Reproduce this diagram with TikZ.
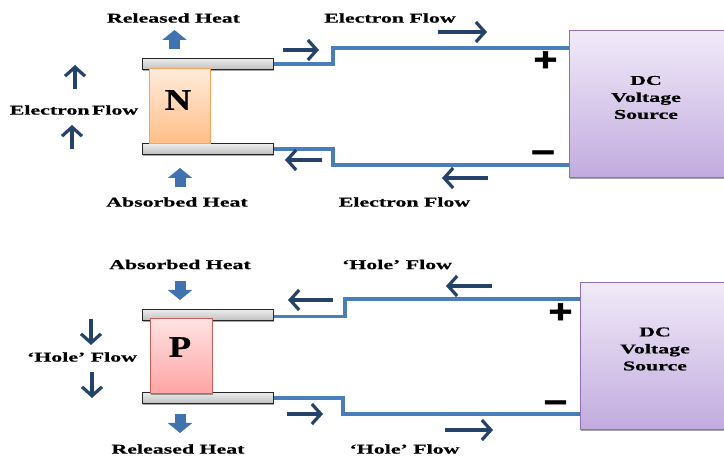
\documentclass[tikz,border=0pt]{standalone}
\usepackage{fontspec}
\setmainfont{Liberation Serif}
\newfontfamily\lab{Liberation Serif}[FakeStretch=1.62,FakeBold=0.6]
\newfontfamily\ltr{Liberation Serif}[FakeStretch=1.22,FakeBold=0.6]
\newfontfamily\sgn{Liberation Sans}[FakeStretch=1.25,FakeBold=1.5]
\usetikzlibrary{arrows.meta,shadows}
\definecolor{navy}{HTML}{25426B}
\definecolor{wirec}{HTML}{4A7EBB}
\definecolor{blockc}{HTML}{3F72AE}
\definecolor{orangetop}{HTML}{FFEBDB}
\definecolor{orangebot}{HTML}{FFBE86}
\definecolor{orangeedge}{HTML}{F9A35A}
\definecolor{pinktop}{HTML}{FFE2E2}
\definecolor{pinkbot}{HTML}{FFA3A3}
\definecolor{pinkedge}{HTML}{C9605C}
\definecolor{purpletop}{HTML}{F0EAF8}
\definecolor{purplebot}{HTML}{C2ABDF}
\definecolor{purpleedge}{HTML}{8E6FB8}
\tikzset{
  lbl/.style={font=\lab\bfseries\fontsize{13.5}{16}\selectfont,text=black,inner sep=0pt},
  letter/.style={font=\ltr\bfseries\fontsize{30}{32}\selectfont,inner sep=0pt},
  sign/.style={font=\sgn\bfseries\fontsize{33}{33}\selectfont,inner sep=0pt},
  softshadow/.style={drop shadow={shadow xshift=.8pt,shadow yshift=-1.2pt,opacity=.35,fill=black}},
  plate/.style={draw=black!85,line width=1pt,top color=gray!15,bottom color=gray!50,minimum width=131pt,minimum height=11pt,inner sep=0pt,softshadow},
  nbox/.style={draw=orangeedge,line width=1pt,top color=orangetop,bottom color=orangebot,minimum width=61pt,minimum height=75pt,inner sep=0pt},
  pbox/.style={draw=pinkedge,line width=1pt,top color=pinktop,bottom color=pinkbot,minimum width=62pt,minimum height=75pt,inner sep=0pt,softshadow},
  dcbox/.style={draw=purpleedge,line width=1pt,top color=purpletop,bottom color=purplebot,inner sep=0pt,softshadow},
  wire/.style={draw=wirec,line width=3.6pt,line join=miter},
  flow/.style={draw=navy,line width=3.6pt,-{Straight Barb[length=9pt,width=20pt,line width=3.2pt]}},
  heat/.style={draw=blockc,line width=11pt,-{Triangle[length=10pt,width=24pt]},shorten >=0pt},
}
\begin{document}
\begin{tikzpicture}[x=1pt,y=-1pt]
\useasboundingbox (0,0) rectangle (724,457);
\clip (0,0) rectangle (724,457);
% ---- top panel ----
\node[plate] (ntop) at (207.5,64) {};
\node[plate] (nbot) at (207.5,149) {};
\node[nbox] (nleg) at (179.5,106.5) {};
\node[letter] (nlet) at (178,100) {N};
\node[dcbox,minimum width=170pt,minimum height=146.5pt,anchor=north west] (dcn) at (569,30.5) {};
\node[lbl,align=center,anchor=center] (dcnt) at (646,97.5) {DC\\[1pt]Voltage\\[1pt]Source};
\coordinate (ne1) at (333,64); \coordinate (ne2) at (333,48);
\coordinate (ne3) at (333,149); \coordinate (ne4) at (333,165);
\draw[wire] (ntop.east) -- (ne1) -- (ne2) -- (dcn.west |- ne2);
\draw[wire] (nbot.east) -- (ne3) -- (ne4) -- (dcn.west |- ne4);
\node[sign] (nplus) at (545.5,61) {+};
\node[sign] (nminus) at (543,157) {\char"2212};
\node[lbl] (t1) at (173.5,18) {Released Heat};
\node[lbl] (t2) at (390,18) {Electron Flow};
\node[lbl] (t3) at (74,110) {Electron\kern-3pt\ Flow};
\node[lbl] (t4) at (177,202) {Absorbed Heat};
\node[lbl] (t5) at (404.5,202) {Electron Flow};
\coordinate (a1s) at (174.5,49); \coordinate (a1e) at (174.5,30);
\coordinate (a2s) at (180,187); \coordinate (a2e) at (180,168);
\draw[heat] (a1s) -- (a1e);
\draw[heat] (a2s) -- (a2e);
\coordinate (f1s) at (283,50); \coordinate (f1e) at (319,50);
\coordinate (f2s) at (438,32); \coordinate (f2e) at (487,32);
\coordinate (f3s) at (322,160); \coordinate (f3e) at (285,160);
\coordinate (f4s) at (488,178); \coordinate (f4e) at (442,178);
\coordinate (f5s) at (75,89); \coordinate (f5e) at (75,65);
\coordinate (f6s) at (72,149); \coordinate (f6e) at (72,125);
\draw[flow] (f1s) -- (f1e);
\draw[flow] (f2s) -- (f2e);
\draw[flow] (f3s) -- (f3e);
\draw[flow] (f4s) -- (f4e);
\draw[flow] (f5s) -- (f5e);
\draw[flow] (f6s) -- (f6e);
% ---- bottom panel ----
\node[plate] (ptop) at (207.5,315) {};
\node[plate] (pbot) at (207.5,398) {};
\node[pbox] (pleg) at (181,356.5) {};
\node[letter] (plet) at (180,347) {P};
\node[dcbox,minimum width=170pt,minimum height=146.5pt,anchor=north west] (dcp) at (580,282.5) {};
\node[lbl,align=center,anchor=center] (dcpt) at (655,349) {DC\\[1pt]Voltage\\[1pt]Source};
\coordinate (pe1) at (345,316.5); \coordinate (pe2) at (345,299);
\coordinate (pe3) at (343,398); \coordinate (pe4) at (343,414);
\draw[wire] (ptop.east |- pe1) -- (pe1) -- (pe2) -- (dcp.west |- pe2);
\draw[wire] (pbot.east) -- (pe3) -- (pe4) -- (dcp.west |- pe4);
\node[sign] (pplus) at (560.5,313) {+};
\node[sign] (pminus) at (555.5,407) {\char"2212};
\node[lbl] (t6) at (180,264.5) {Absorbed Heat};
\node[lbl] (t7) at (397,264.5) {‘Hole’ Flow};
\node[lbl] (t8) at (82,357) {‘Hole’ Flow};
\node[lbl] (t9) at (178,449) {Released Heat};
\node[lbl] (t10) at (404.5,449) {‘Hole’ Flow};
\coordinate (a3s) at (180,281); \coordinate (a3e) at (180,300);
\coordinate (a4s) at (180,414); \coordinate (a4e) at (180,433);
\draw[heat] (a3s) -- (a3e);
\draw[heat] (a4s) -- (a4e);
\coordinate (g1s) at (333,300); \coordinate (g1e) at (288,300);
\coordinate (g2s) at (492,286); \coordinate (g2e) at (446,286);
\coordinate (g3s) at (287,414); \coordinate (g3e) at (323,414);
\coordinate (g4s) at (445,430); \coordinate (g4e) at (493,430);
\coordinate (g5s) at (91,319); \coordinate (g5e) at (91,345);
\coordinate (g6s) at (92,372); \coordinate (g6e) at (92,398);
\draw[flow] (g1s) -- (g1e);
\draw[flow] (g2s) -- (g2e);
\draw[flow] (g3s) -- (g3e);
\draw[flow] (g4s) -- (g4e);
\draw[flow] (g5s) -- (g5e);
\draw[flow] (g6s) -- (g6e);
\end{tikzpicture}
\end{document}
